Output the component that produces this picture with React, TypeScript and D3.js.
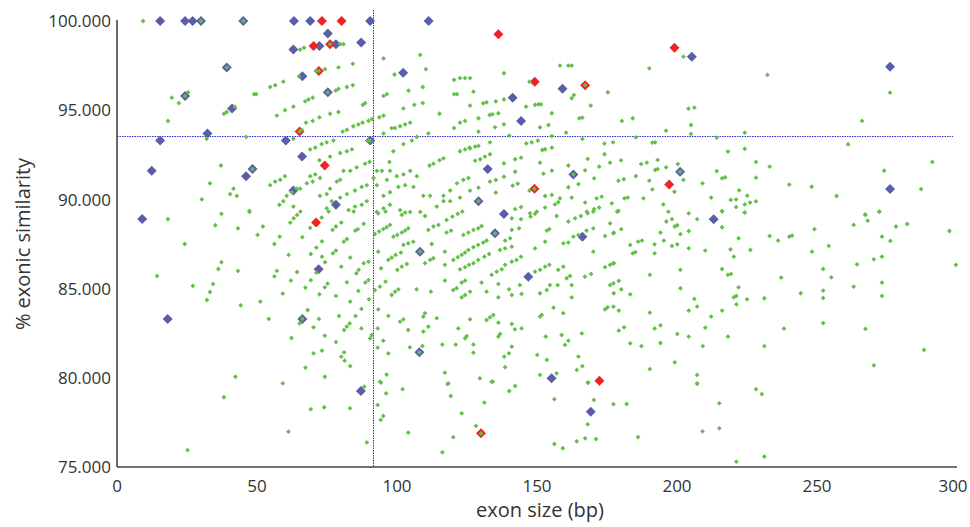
import * as d3 from 'd3'

// exon size (bp), % exonic similarity
const GREEN: [number, number][] = [
  // left, upper
  [9.3, 100], [19.6, 95.7], [22.1, 95.4], [18.2, 94.4], [25.4, 96.0], [24.3, 95.8], [30.0, 100], [39.2, 97.4],
  [32.0, 93.4], [38.2, 94.8], [39.2, 94.9], [42.1, 95.2], [37.1, 91.9], [33.2, 90.9], [30.3, 90.0],
  // 40-125, upper
  [45.1, 100], [76.1, 98.7], [72.1, 97.2], [75.3, 96.0], [65.2, 93.8], [90.4, 93.3], [48.4, 91.7],
  [65.4, 98.4], [66.8, 98.5], [79.7, 98.7], [80.9, 98.7], [95.2, 97.9], [108.3, 98.1], [84.2, 97.6], [79.1, 97.4],
  [74.3, 97.3], [71.1, 97.2], [110.3, 97.3], [99.1, 97.0], [65.0, 96.9], [59.4, 96.6], [56.5, 96.4], [54.7, 96.3],
  [49.7, 95.9], [49.0, 95.9], [84.2, 96.4], [82.1, 96.3], [79.1, 96.2], [78.1, 96.1], [109.2, 96.3], [104.1, 96.1],
  [120.4, 96.7], [122.5, 96.8], [124.3, 96.8], [95.2, 95.8], [96.4, 95.9], [69.9, 95.7], [68.4, 95.6], [67.2, 95.5],
  [63.0, 95.2], [60.0, 95.0], [57.1, 94.7], [121.4, 95.9], [120.4, 95.9], [88.6, 95.4], [87.8, 95.3], [109.2, 95.4],
  [106.2, 95.3], [102.3, 95.1], [79.1, 94.9], [76.1, 94.8], [72.3, 94.6], [69.9, 94.4], [67.5, 94.3], [95.2, 94.7],
  [93.7, 94.6], [115.2, 94.8], [104.7, 94.3], [102.9, 94.2], [101.1, 94.1], [99.3, 94.0], [98.1, 94.0], [91.0, 94.5],
  [89.8, 94.4], [87.7, 94.3], [86.2, 94.2], [84.4, 94.1], [82.1, 93.9], [80.6, 93.8], [122.5, 94.3], [124.3, 94.4],
  [120.4, 94.0], [95.2, 93.7], [111.2, 93.7], [107.1, 93.5], [46.1, 93.5], [66.0, 93.9], [63.0, 93.4], [89.8, 93.3],
  [77.3, 93.3], [74.9, 93.2], [73.1, 93.1], [70.8, 92.9], [69.0, 92.8], [105.3, 93.3], [102.3, 93.1], [122.5, 92.7],
  [124.3, 92.8], [125.9, 92.9], [83.9, 92.8], [82.1, 92.7], [79.7, 92.6], [76.1, 92.4], [72.3, 92.2], [98.7, 92.7],
  [97.3, 92.1], [116.6, 92.3], [115.2, 92.2], [113.0, 92.0], [111.6, 91.9], [90.2, 92.1], [88.6, 92.0], [85.6, 91.8],
  [83.3, 91.6], [80.9, 91.6], [70.8, 91.4], [69.0, 91.3], [54.7, 90.8], [56.5, 91.0], [58.3, 91.1], [60.0, 91.3],
  [62.4, 90.4], [64.2, 90.6], [41.6, 90.6], [40.4, 90.3], [58.0, 89.7], [59.4, 89.9], [65.4, 90.6], [67.8, 90.9],
  [69.9, 91.0], [72.5, 91.2], [76.1, 90.6], [78.5, 91.0], [79.7, 91.1], [92.8, 91.6], [94.6, 91.6], [97.5, 91.6],
  [91.6, 91.2], [92.8, 90.8], [96.4, 91.1], [99.9, 91.3], [102.3, 91.4], [104.7, 91.6], [107.1, 91.3], [109.4, 90.2],
  [111.8, 90.2], [116.6, 90.2], [119.0, 90.5], [121.4, 90.9], [123.7, 91.1], [125.5, 91.2], [95.2, 90.2], [97.5, 90.4],
  [100.5, 90.7], [102.9, 90.8], [105.9, 90.7], [85.0, 90.5], [87.4, 90.7], [89.2, 90.8], [72.5, 90.2], [74.9, 90.3],
  [76.7, 89.9], [79.7, 90.1], [82.1, 90.3], [60.6, 90.2], [63.0, 89.6], [74.9, 89.5], [82.7, 89.4], [85.0, 89.6],
  [87.4, 89.7], [89.2, 89.9], [92.8, 89.3], [95.2, 89.5], [97.5, 89.7], [101.1, 89.4], [104.7, 89.3], [108.3, 89.3],
  [114.2, 89.6], [116.6, 89.9], [119.0, 89.9], [122.5, 90.1], [47.3, 89.3], [42.8, 90.2],
  // 125-210, upper
  [167.2, 96.4], [163.0, 91.4], [201.1, 91.55], [149.1, 90.6], [129.1, 89.9],
  [202.3, 98.0], [190.1, 97.35], [158.2, 97.5], [161.2, 97.5], [162.4, 97.5], [138.2, 97.07], [126.1, 96.8],
  [147.3, 96.6], [175.3, 96.0], [127.3, 96.04], [138.2, 95.6], [135.3, 95.5], [132.0, 95.44], [130.8, 95.39],
  [126.1, 95.26], [146.1, 95.2], [149.3, 95.3], [150.5, 95.33], [151.4, 95.33], [162.4, 95.67], [163.2, 95.85],
  [169.2, 95.26], [204.1, 95.09], [206.2, 95.14], [155.3, 94.83], [136.2, 94.83], [134.1, 94.77], [133.1, 94.73],
  [129.1, 94.55], [165.1, 94.55], [166.2, 94.58], [180.3, 94.4], [184.2, 94.55], [138.2, 94.21], [135.0, 94.04],
  [129.1, 93.8], [154.1, 94.17], [151.1, 94.04], [205.0, 94.17], [196.1, 93.85], [160.4, 93.74], [140.1, 93.57],
  [155.3, 93.55], [205.0, 93.67], [166.2, 93.39], [146.2, 93.14], [148.1, 93.2], [150.3, 93.3], [133.2, 93.2],
  [129.1, 93.0], [127.9, 92.96], [126.1, 92.86], [174.1, 93.13], [177.2, 93.2], [185.3, 93.48], [191.2, 93.18],
  [192.2, 93.2], [152.9, 92.81], [151.9, 92.77], [155.3, 92.9], [133.2, 92.53], [131.4, 92.4], [129.7, 92.25],
  [127.9, 92.17], [144.3, 92.34], [142.2, 92.25], [174.1, 92.53], [168.1, 92.27], [161.2, 91.9], [151.1, 92.06],
  [176.1, 92.06], [180.0, 92.19], [187.2, 91.98], [189.2, 92.06], [193.1, 92.21], [200.3, 91.98], [138.2, 92.02],
  [138.2, 91.27], [142.2, 91.55], [152.3, 91.44], [155.3, 91.61], [167.2, 91.63], [172.2, 91.84], [170.4, 91.18],
  [192.2, 91.65], [193.1, 91.7], [196.1, 91.8], [202.3, 91.09], [179.1, 91.05], [181.0, 91.13], [190.1, 91.05],
  [185.3, 91.31], [133.2, 91.0], [135.3, 91.09], [129.1, 90.66], [126.1, 90.49], [141.3, 90.77], [143.1, 90.88],
  [147.3, 90.49], [164.8, 90.86], [161.2, 90.68], [199.1, 90.43], [209.1, 90.9], [191.2, 90.56], [135.3, 90.38],
  [152.9, 90.19], [155.3, 90.25], [158.2, 90.06], [162.4, 90.1], [167.2, 89.82], [171.3, 90.06], [173.1, 90.15],
  [181.2, 90.06], [182.4, 90.1], [188.0, 90.06], [195.1, 89.72], [212.2, 90.1], [142.2, 89.46], [144.3, 89.57],
  [152.9, 89.54], [156.4, 89.72], [157.6, 89.84], [147.5, 89.22], [149.9, 89.31], [167.8, 89.31], [170.4, 89.46],
  [172.2, 89.54], [176.7, 89.78], [179.1, 89.35], [196.9, 89.31],
  // right, upper
  [232.3, 96.98], [276.1, 95.98], [266.1, 94.4], [224.2, 93.74], [214.2, 93.46], [261.1, 93.09], [218.2, 92.68],
  [224.2, 92.84], [228.2, 92.1], [233.1, 91.84], [214.2, 91.59], [274.0, 91.61], [291.2, 92.1], [216.1, 91.18],
  [217.2, 91.24], [228.2, 91.22], [240.1, 90.83], [248.1, 90.71], [287.2, 90.58], [257.0, 90.19], [222.2, 90.51],
  [225.1, 90.21], [219.2, 89.97], [221.1, 90.0], [224.2, 89.72], [226.1, 89.82], [228.2, 89.89], [221.1, 89.57],
  [216.1, 89.35], [224.2, 89.27], [267.2, 89.16], [272.2, 89.31],
  // left, lower
  [66.2, 83.3],
  [18.2, 88.89], [37.3, 89.19], [47.3, 89.35], [35.1, 88.55], [43.2, 88.38], [52.1, 88.48], [50.2, 88.01],
  [58.1, 87.91], [56.2, 87.5], [66.2, 87.88], [61.3, 86.89], [69.2, 86.94], [71.2, 87.3], [73.2, 87.65], [69.0, 88.4],
  [73.1, 88.98], [75.6, 89.32], [61.9, 88.7], [63.1, 88.94], [64.3, 89.13], [65.5, 89.32], [77.0, 88.29], [78.2, 88.48],
  [80.1, 88.7], [85.1, 88.25], [86.0, 88.33], [88.1, 88.63], [84.5, 89.32], [81.0, 87.63], [82.1, 87.78], [78.2, 87.13],
  [77.1, 86.98], [73.2, 86.79], [74.3, 86.48], [83.3, 86.74], [88.1, 86.42], [24.2, 87.5], [37.3, 86.48], [36.2, 86.1],
  [43.2, 85.99], [14.3, 85.71], [27.1, 85.15], [34.3, 85.26], [33.2, 84.81], [32.1, 84.36], [44.2, 84.06], [51.2, 84.27],
  [57.1, 85.99], [56.2, 85.69], [64.3, 85.93], [62.1, 85.45], [59.2, 84.72], [67.3, 85.05], [69.2, 85.47], [71.2, 85.9],
  [74.2, 85.07], [75.2, 85.28], [72.3, 84.68], [80.1, 86.23], [82.1, 85.35], [86.3, 86.05], [85.5, 85.86], [88.7, 85.34],
  [86.2, 84.87], [78.2, 84.59], [83.3, 84.27], [87.3, 83.86], [68.1, 83.8], [72.1, 83.3], [79.3, 83.47], [85.2, 83.47],
  [54.2, 83.3], [65.2, 83.05], [70.2, 82.83], [81.1, 82.68], [82.1, 82.87], [83.1, 83.05], [87.3, 82.77], [62.3, 82.23],
  [74.2, 82.36], [78.2, 82.01], [70.2, 81.37], [73.2, 81.52], [81.1, 81.43], [80.1, 81.19], [81.3, 80.96], [83.3, 80.66],
  [67.3, 80.57], [74.2, 80.06], [42.3, 80.06], [59.2, 79.69],
  // middle, lower
  [135.0, 88.1], [108.2, 87.07], [108.0, 81.43],
  [93.3, 89.22], [95.9, 89.32], [101.7, 89.13], [102.9, 89.26], [110.0, 89.07], [117.7, 88.85], [119.8, 89.04],
  [121.7, 89.19], [123.3, 89.32], [141.0, 88.94], [144.3, 88.89], [147.7, 89.04], [149.3, 89.19], [157.0, 89.07],
  [161.2, 88.76], [163.6, 88.94], [165.7, 89.07], [168.1, 89.22], [170.1, 89.32], [176.1, 88.66],
  [92.1, 88.06], [93.6, 88.2], [95.1, 88.33], [96.3, 88.44], [97.5, 88.57], [98.7, 87.91], [100.1, 88.01],
  [101.7, 88.14], [102.9, 88.25], [104.0, 88.38], [111.2, 88.29], [113.0, 88.48], [114.8, 88.57], [117.7, 88.14],
  [119.3, 88.25], [123.7, 88.01], [125.5, 88.14], [127.3, 88.29], [129.0, 88.38], [130.2, 88.51], [141.0, 88.29],
  [143.6, 88.38], [138.6, 87.69], [140.4, 87.82], [153.5, 88.25], [154.4, 88.33], [163.0, 87.91], [164.8, 88.01],
  [167.7, 88.25], [170.1, 88.38], [174.3, 87.95], [177.3, 88.1],
  [93.3, 87.07], [96.9, 86.61], [98.1, 86.74], [99.5, 86.89], [101.4, 87.02], [102.3, 87.45], [104.0, 87.54],
  [105.8, 87.63], [112.4, 87.5], [117.1, 87.07], [120.1, 86.61], [121.7, 86.76], [123.1, 86.89], [124.3, 87.02],
  [125.5, 87.17], [127.3, 87.32], [129.0, 87.45], [130.8, 87.58], [132.0, 87.69], [136.8, 87.17], [138.6, 87.26],
  [141.0, 87.35], [149.3, 87.26], [152.9, 87.63], [159.4, 87.54], [161.2, 87.58], [170.1, 87.07],
  [89.8, 86.51], [94.3, 86.14], [100.1, 86.05], [101.7, 86.23], [103.5, 86.38], [110.0, 86.42], [111.8, 86.61],
  [113.0, 86.7], [117.1, 86.33], [122.5, 86.08], [124.3, 86.2], [125.7, 86.33], [127.3, 86.42], [129.0, 86.61],
  [131.2, 86.79], [132.9, 86.94], [133.8, 85.77], [135.6, 85.95], [137.4, 86.08], [138.6, 86.33], [141.0, 86.51],
  [142.7, 86.61], [144.3, 86.79], [149.3, 85.95], [151.1, 86.05], [152.9, 86.23], [154.4, 86.33], [157.6, 86.05],
  [159.4, 86.23], [160.6, 85.58], [161.8, 85.71], [167.1, 85.67], [169.3, 85.82], [174.3, 86.2], [176.1, 86.33],
  [177.3, 86.42],
  [89.8, 85.48], [92.1, 84.92], [93.9, 85.11], [95.9, 85.39], [98.1, 84.64], [99.3, 84.83], [100.5, 84.96],
  [107.0, 84.96], [112.1, 84.83], [117.1, 85.45], [120.1, 84.92], [121.3, 85.02], [123.1, 85.34], [124.3, 85.45],
  [123.1, 84.51], [124.3, 84.64], [126.1, 84.83], [130.2, 85.34], [132.0, 84.83], [136.2, 85.26], [136.2, 84.51],
  [140.0, 84.96], [141.0, 84.64], [143.9, 85.2], [144.5, 84.7], [151.1, 84.74], [153.5, 84.92], [154.6, 85.2],
  [157.4, 85.2], [162.4, 85.2], [162.4, 84.51], [176.1, 85.2], [177.3, 85.3],
  [90.0, 84.4], [93.3, 83.84], [96.9, 83.47], [101.1, 83.15], [102.3, 83.28], [109.4, 83.43], [110.0, 83.62],
  [114.2, 83.34], [126.1, 83.28], [132.0, 83.24], [133.2, 83.39], [134.4, 83.52], [136.2, 83.09], [141.0, 83.02],
  [151.1, 83.43], [151.7, 83.52], [155.9, 83.93], [159.4, 83.62], [174.3, 83.84], [175.2, 83.95], [177.3, 83.99],
  [93.1, 82.77], [91.0, 82.4], [90.4, 82.21], [95.1, 82.08], [104.0, 82.68], [109.4, 82.59], [111.2, 82.87],
  [121.9, 82.77], [124.3, 82.21], [124.9, 82.34], [136.8, 82.46], [136.2, 82.31], [142.1, 82.72], [144.5, 82.77],
  [153.1, 82.31], [158.8, 82.4], [161.2, 82.08], [166.0, 82.49], [104.6, 81.71], [109.1, 81.78], [116.2, 81.86],
  [121.0, 81.86], [127.3, 81.86], [160.0, 81.84], [93.1, 81.69], [96.9, 81.37],
  [127.3, 81.41], [138.3, 81.19], [140.0, 81.37], [141.0, 81.75], [150.1, 81.28], [153.5, 81.0], [164.8, 81.19],
  [166.2, 80.66], [138.6, 80.59], [117.1, 80.29], [96.3, 80.18], [151.1, 80.16], [157.0, 80.25], [164.2, 80.44],
  [129.6, 79.97], [133.8, 79.78], [93.9, 79.78], [118.3, 79.69], [168.3, 79.73],
  // right, lower
  [178.6, 89.32], [180.1, 88.33], [177.4, 88.14], [183.3, 87.45], [186.1, 87.63], [187.5, 87.69], [184.2, 86.98],
  [185.1, 87.04], [192.0, 87.48], [192.0, 86.98], [194.1, 88.14], [195.3, 87.69], [196.2, 88.76], [198.2, 88.89],
  [199.2, 88.48], [200.1, 88.55], [201.2, 88.05], [198.2, 87.39], [200.1, 87.48], [204.2, 88.23], [204.2, 87.26],
  [204.2, 89.22], [207.2, 88.89], [216.1, 89.32], [216.1, 88.44], [224.2, 89.26], [222.0, 87.82], [210.1, 87.13],
  [219.1, 87.2], [220.3, 86.79], [226.2, 87.17], [233.1, 87.95], [236.1, 87.69], [240.1, 87.91], [241.1, 87.97],
  [249.1, 88.33], [248.2, 87.07], [254.2, 87.39], [263.1, 88.57], [267.3, 89.13], [268.1, 88.81], [272.3, 89.32],
  [273.2, 87.91], [276.2, 87.67], [278.2, 88.48], [282.2, 88.62], [297.3, 88.23], [299.6, 86.33],
  [270.3, 86.64], [273.2, 86.79], [264.3, 86.36], [177.4, 86.42], [190.3, 85.77], [201.2, 86.05], [179.2, 85.43],
  [180.1, 84.96], [177.4, 84.74], [183.3, 84.68], [201.2, 85.02], [216.1, 86.1], [218.2, 85.77], [219.3, 85.82],
  [222.0, 85.07], [220.3, 84.51], [221.2, 84.59], [221.2, 84.12], [225.0, 84.4], [231.2, 84.46], [237.2, 85.62],
  [244.2, 84.74], [252.2, 86.1], [255.1, 85.63], [252.2, 84.89], [252.2, 84.48], [263.1, 85.11], [273.2, 85.34],
  [273.2, 84.59], [206.2, 84.42], [207.2, 83.99], [204.2, 83.77], [179.2, 83.77], [190.3, 83.65], [212.2, 83.43],
  [216.1, 83.77], [210.1, 82.81], [179.2, 82.64], [181.1, 82.83], [192.0, 82.76], [194.1, 82.94], [200.1, 82.46],
  [204.2, 82.31], [218.2, 82.31], [238.2, 82.76], [252.2, 83.07], [267.3, 82.74], [183.3, 81.93], [187.3, 81.78],
  [194.1, 81.95], [209.2, 81.78], [231.2, 81.78], [288.2, 81.56], [190.3, 80.49], [199.2, 80.87], [207.2, 80.16],
  [207.2, 79.69], [270.3, 80.7],
  // bottom strip
  [88.3, 79.5], [38.2, 78.91], [94.3, 79.73], [96.1, 79.13], [102.0, 79.36], [93.1, 78.48], [69.2, 78.24],
  [74.0, 78.35], [83.2, 78.29], [95.1, 77.86], [94.2, 77.64], [61.2, 76.98], [104.0, 76.93], [25.2, 75.95],
  [89.2, 76.38], [118.1, 79.64], [119.2, 78.98], [123.1, 78.01], [131.2, 78.61], [128.2, 77.3], [130.0, 76.89],
  [120.1, 76.67], [116.2, 75.82], [134.2, 79.79],
  [140.1, 79.26], [142.2, 79.54], [168.1, 79.73], [156.2, 78.8], [170.3, 78.76], [177.3, 78.52], [182.0, 78.53],
  [168.1, 77.39], [207.2, 79.66], [215.1, 78.57], [228.2, 79.36], [230.3, 79.09], [209.1, 77.0], [215.1, 77.17],
  [156.2, 76.29], [159.2, 76.05], [164.2, 76.44], [167.2, 76.61], [171.1, 76.57], [186.1, 76.68], [221.2, 75.3],
  [231.2, 75.58],
]

const BLUE: [number, number][] = [
  [15.4, 100], [24.3, 100], [27.0, 100], [30.0, 100], [45.1, 100], [63.2, 100], [69.0, 100], [90.4, 100], [111.3, 100],
  [75.3, 99.3], [87.2, 98.8], [63.0, 98.4], [72.3, 98.6], [78.2, 98.7], [39.2, 97.4], [66.2, 96.9], [102.2, 97.1],
  [24.3, 95.8], [75.3, 96.0], [41.1, 95.1], [32.3, 93.7], [15.4, 93.3], [60.3, 93.3], [90.4, 93.3], [66.1, 92.4],
  [12.4, 91.6], [46.1, 91.3], [48.4, 91.7], [63.0, 90.5], [78.2, 89.7],
  [205.3, 98.0], [159.1, 96.2], [141.3, 95.7], [144.3, 94.4], [132.4, 91.7], [163.0, 91.4], [201.1, 91.55],
  [129.1, 89.9], [138.2, 89.18], [276.1, 97.44], [276.1, 90.58],
  [9.0, 88.9], [18.1, 83.3], [72.0, 86.08], [66.2, 83.3],
  [135.0, 88.1], [166.2, 87.9], [108.2, 87.07], [146.9, 85.67], [108.0, 81.43], [155.2, 79.97], [213.1, 88.89],
  [87.1, 79.26], [169.2, 78.09],
]

const RED: [number, number][] = [
  [73.2, 100], [80.2, 100], [70.2, 98.6], [76.1, 98.7], [72.1, 97.2], [65.2, 93.8], [74.2, 91.9], [136.2, 99.26],
  [199.1, 98.5], [149.2, 96.6], [167.2, 96.4], [149.1, 90.6], [197.2, 90.84], [71.1, 88.7], [172.3, 79.84],
  [130.0, 76.89],
]

const X_TICKS = [0, 50, 100, 150, 200, 250, 300]
const Y_TICKS = [75, 80, 85, 90, 95, 100]
// dotted reference lines (means)
const MEAN_SIZE = 91.3
const MEAN_SIM = 93.55

const W = 970
const H = 527
const MARGIN = { top: 21, right: 13, bottom: 60, left: 117 }
const FONT = '"Open Sans", "Liberation Sans", sans-serif'

const x = d3.scaleLinear().domain([0, 300]).range([MARGIN.left, W - MARGIN.right])
const y = d3.scaleLinear().domain([75, 100]).range([H - MARGIN.bottom, MARGIN.top])

// rotated square: half-diagonal h
const bigDiamond = d3.symbol(d3.symbolSquare, 2 * 5 * 5)()
const smallDiamond = d3.symbol(d3.symbolSquare, 2 * 2.4 * 2.4)()

// 1px lines sit on pixel centres so the dots stay crisp
const crisp = (v: number) => Math.round(v) + 0.5

export default function App() {
  const x0 = x.range()[0]
  const x1 = x.range()[1]
  const yBottom = y.range()[0]
  const yTop = y.range()[1]
  const mx = crisp(x(MEAN_SIZE))
  const my = crisp(y(MEAN_SIM))
  return (
    <div style={{ position: 'absolute', left: 0, top: 0 }}>
      <svg width={W} height={H} style={{ display: 'block', background: '#fff' }}>
        {/* reference lines */}
        <line x1={mx} x2={mx} y1={yTop - 11} y2={yBottom}
          stroke="#3030c8" strokeWidth={1} strokeDasharray="1.5 1" />
        <line x1={x0} x2={x1 - 4} y1={my} y2={my}
          stroke="#3030c8" strokeWidth={1} strokeDasharray="1.5 1" />

        {BLUE.map((d, i) => (
          <path key={'b' + i} d={bigDiamond ?? ''} fill="#5a5ea8"
            transform={`translate(${x(d[0])},${y(d[1])}) rotate(45)`} />
        ))}
        {RED.map((d, i) => (
          <path key={'r' + i} d={bigDiamond ?? ''} fill="#ee2424"
            transform={`translate(${x(d[0])},${y(d[1])}) rotate(45)`} />
        ))}
        {GREEN.map((d, i) => (
          <path key={'g' + i} d={smallDiamond ?? ''} fill="#63bf4a"
            transform={`translate(${x(d[0])},${y(d[1])}) rotate(45)`} />
        ))}

        {/* axes */}
        <line x1={x0} x2={x0} y1={yTop - 1} y2={yBottom} stroke="#444" strokeWidth={1.6} />
        <line x1={x0} x2={x1} y1={yBottom} y2={yBottom} stroke="#444" strokeWidth={1.6} />

        {Y_TICKS.map((t) => (
          <text key={'yt' + t} x={x0 - 6} y={y(t)} dy="0.36em" textAnchor="end"
            fontFamily={FONT} fontSize={17} fill="#333">{d3.format('.3f')(t)}</text>
        ))}
        {X_TICKS.map((t) => (
          // last label is kept inside the page edge
          <text key={'xt' + t} x={Math.min(x(t), W - 17)} y={yBottom + 25} textAnchor="middle"
            fontFamily={FONT} fontSize={17} fill="#333">{t}</text>
        ))}

        <text x={(x0 + x1) / 2 + 3} y={H - 10} textAnchor="middle" fontFamily={FONT} fontSize={20} fill="#333">
          exon size (bp)
        </text>
        <text transform={`translate(30,${(yTop + yBottom) / 2}) rotate(-90)`} textAnchor="middle"
          fontFamily={FONT} fontSize={20} fill="#333">
          % exonic similarity
        </text>
      </svg>
    </div>
  )
}
